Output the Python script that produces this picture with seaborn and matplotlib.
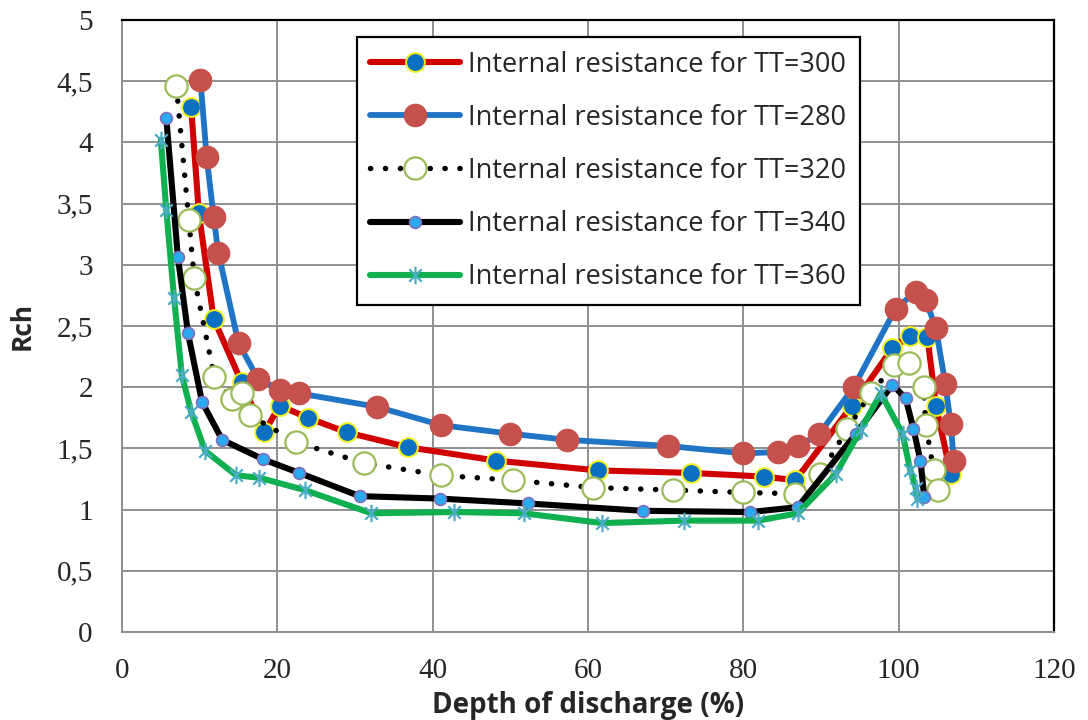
import numpy as np
import pandas as pd
import matplotlib
matplotlib.use("Agg")
import matplotlib.pyplot as plt
from matplotlib.path import Path
from matplotlib.ticker import FuncFormatter
import seaborn as sns

# ---- data ----
x_300 = [8.9, 9.9, 11.8, 15.4, 18.3, 20.3, 23.9, 29.0, 36.8, 48.2, 61.3, 73.2, 82.6, 86.7,
         94.0, 99.2, 101.5, 103.7, 104.8, 106.7]
y_300 = [4.29, 3.42, 2.56, 2.04, 1.63, 1.85, 1.75, 1.63, 1.51, 1.40, 1.32, 1.30, 1.27, 1.24,
         1.85, 2.32, 2.42, 2.41, 1.85, 1.29]

x_280 = [10.1, 10.9, 11.8, 12.4, 15.0, 17.5, 20.4, 22.8, 32.8, 41.1, 50.0, 57.3, 70.3, 80.0,
         84.5, 87.1, 89.8, 94.2, 99.6, 102.2, 103.5, 104.8, 106.0, 106.7, 107.1]
y_280 = [4.51, 3.88, 3.39, 3.10, 2.36, 2.07, 1.98, 1.95, 1.84, 1.69, 1.62, 1.57, 1.52, 1.46,
         1.47, 1.52, 1.62, 2.00, 2.64, 2.78, 2.71, 2.48, 2.03, 1.70, 1.40]

x_320 = [7.0, 8.6, 9.3, 11.9, 14.2, 15.4, 16.5, 22.4, 31.2, 41.1, 50.3, 60.7, 71.0, 79.9,
         86.7, 89.9, 93.4, 96.4, 99.4, 101.3, 103.2, 103.5, 104.5, 105.0]
y_320 = [4.46, 3.37, 2.89, 2.08, 1.90, 1.95, 1.77, 1.55, 1.38, 1.28, 1.24, 1.18, 1.16, 1.14,
         1.13, 1.29, 1.66, 1.95, 2.18, 2.20, 2.00, 1.69, 1.32, 1.16]

x_340 = [5.7, 7.2, 8.5, 10.3, 12.9, 18.2, 22.8, 30.6, 40.9, 52.3, 67.1, 80.9, 87.0,
         94.5, 99.2, 100.9, 101.9, 102.8, 103.3]
y_340 = [4.20, 3.06, 2.44, 1.88, 1.57, 1.41, 1.30, 1.11, 1.09, 1.05, 0.99, 0.98, 1.02,
         1.62, 2.02, 1.91, 1.66, 1.40, 1.10]

x_360 = [5.0, 5.7, 6.7, 7.7, 8.9, 10.7, 14.7, 17.7, 23.5, 32.1, 42.8, 51.7, 61.8, 72.3,
         81.9, 87.0, 91.9, 95.1, 97.7, 100.5, 101.5, 102.2, 102.4]
y_360 = [4.02, 3.45, 2.73, 2.10, 1.80, 1.48, 1.28, 1.26, 1.16, 0.97, 0.98, 0.97, 0.89, 0.91,
         0.91, 0.97, 1.29, 1.65, 1.95, 1.62, 1.32, 1.18, 1.09]

labels = ["Internal resistance for TT=300", "Internal resistance for TT=280",
          "Internal resistance for TT=320", "Internal resistance for TT=340",
          "Internal resistance for TT=360"]

x_ticks = [0, 20, 40, 60, 80, 100, 120]
y_ticks = [0, 0.5, 1, 1.5, 2, 2.5, 3, 3.5, 4, 4.5, 5]

# ---- style ----
sns.set_theme(style="white")
plt.rcParams["font.family"] = ["Open Sans", "DejaVu Sans"]

fig = plt.figure(figsize=(10.88, 7.2), dpi=100)
ax = fig.add_axes([122 / 1088, 1 - 632 / 720, 932 / 1088, 612 / 720])

asterisk = Path([(0, -1), (0, 1), (-0.72, -0.72), (0.72, 0.72), (-0.72, 0.72), (0.72, -0.72)],
                [Path.MOVETO, Path.LINETO, Path.MOVETO, Path.LINETO, Path.MOVETO, Path.LINETO])

series = [
    (x_300, y_300, dict(color="#D00000", lw=4.4, marker="o", ms=13.5, mfc="#0B6FC2",
                        mec="#F2F21A", mew=1.4)),
    (x_280, y_280, dict(color="#1F74C6", lw=4.2, marker="o", ms=16, mfc="#C5504C",
                        mec="#C5504C", mew=1.0)),
    (x_320, y_320, dict(color="black", lw=3.9, linestyle=(0, (0.05, 2.7)),
                        dash_capstyle="round", marker="o", ms=16, mfc="white",
                        mec="#9BBB59", mew=1.6)),
    (x_340, y_340, dict(color="black", lw=4.4, marker="o", ms=8.5, mfc="#2AA9EE",
                        mec="#7F6FB8", mew=1.2)),
    (x_360, y_360, dict(color="#10B050", lw=4.4, marker=asterisk, ms=12.5, mfc="none",
                        mec="#4BACC6", mew=1.6)),
]

for (xs, ys, kw), lab in zip(series, labels):
    df = pd.DataFrame({"x": xs, "y": ys})
    sns.lineplot(data=df, x="x", y="y", ax=ax, sort=False, estimator=None,
                 label=lab, **kw)

ax.set_xlim(0, 120)
ax.set_ylim(0, 5)
ax.set_xticks(x_ticks)
ax.set_yticks(y_ticks)
fmt = FuncFormatter(lambda v, p: f"{v:g}".replace(".", ","))
ax.yaxis.set_major_formatter(fmt)
ax.xaxis.set_major_formatter(fmt)
ax.grid(True, color="#8F8F8F", lw=1.4)
ax.set_axisbelow(True)
for side in ["left", "bottom"]:
    ax.spines[side].set_color("#8F8F8F")
    ax.spines[side].set_linewidth(1.4)
for side in ["top", "right"]:
    ax.spines[side].set_color("black")
    ax.spines[side].set_linewidth(1.6)
ax.tick_params(axis="both", length=0, labelsize=21)
ax.tick_params(axis="y", pad=21)
ax.tick_params(axis="x", pad=19)
for t in ax.get_xticklabels() + ax.get_yticklabels():
    t.set_fontfamily(["Liberation Serif", "DejaVu Serif"])

ax.set_xlabel("Depth of discharge (%)", fontsize=20, fontweight="bold", labelpad=5)
ax.set_ylabel("Rch", fontsize=19, fontweight="bold", labelpad=15)

leg = ax.legend(loc="upper left", bbox_to_anchor=(0.2521, 0.9722), borderaxespad=0,
                fontsize=19.5, frameon=True, fancybox=False, shadow=False, framealpha=1,
                edgecolor="black", handlelength=3.3, handletextpad=0.3,
                labelspacing=0.93, borderpad=0.5, numpoints=1)
leg.get_frame().set_linewidth(1.6)

fig.savefig("out.png", dpi=100)
